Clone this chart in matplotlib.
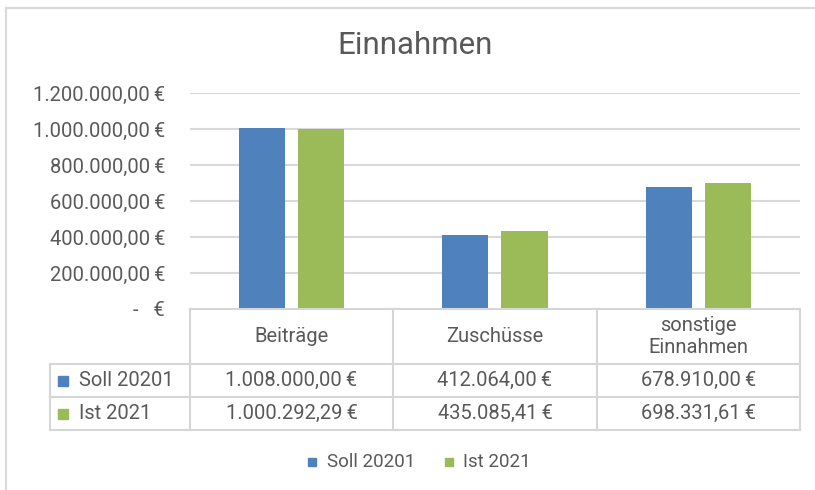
import matplotlib
matplotlib.use("Agg")
import matplotlib.pyplot as plt
from matplotlib.patches import Rectangle
from matplotlib.lines import Line2D

plt.rcParams['font.family'] = ['Roboto', 'DejaVu Sans']

title = "Einnahmen"
categories = ["Beiträge", "Zuschüsse", "sonstige\nEinnahmen"]
series_names = ["Soll 20201", "Ist 2021"]
soll = [1008000.00, 412064.00, 678910.00]
ist = [1000292.29, 435085.41, 698331.61]
yticks = [0, 200000, 400000, 600000, 800000, 1000000, 1200000]
colors = ["#4F81BD", "#9BBB59"]

W, H = 815, 490
fig = plt.figure(figsize=(W / 100, H / 100), dpi=100)

def fx(px):
    return px / W

def fy(py):
    return 1 - py / H

grid_c = "#D9D9D9"
text_c = "#595959"
FS = 14.5

# chart border
fig.add_artist(Line2D([fx(6), fx(815)], [fy(8), fy(8)], color=grid_c, lw=1.5))
fig.add_artist(Line2D([fx(6), fx(6)], [fy(8), fy(490)], color=grid_c, lw=1.5))

L, R, T, B = 190, 800, 93, 309
ax = fig.add_axes([fx(L), fy(B), fx(R - L), (B - T) / H])
ax.set_xlim(-0.5, 2.5)
ax.set_ylim(0, 1200000)

cat_px = (R - L) / 3
bw = 46 / cat_px
off = 29.5 / cat_px
x = list(range(len(categories)))
ax.bar([i - off for i in x], soll, width=bw, color=colors[0], zorder=3)
ax.bar([i + off for i in x], ist, width=bw, color=colors[1], zorder=3)

def fmt(v):
    if v == 0:
        return "-   €"
    s = f"{v:,.2f}"
    s = s.replace(",", "X").replace(".", ",").replace("X", ".")
    return s + "\u2009€"

ax.set_yticks(yticks)
ax.set_yticklabels([fmt(v) for v in yticks], fontsize=FS, color=text_c)
ax.tick_params(axis='y', length=0, pad=18)
ax.set_xticks([])
ax.yaxis.grid(True, color=grid_c, lw=1.5, zorder=0)
for s in ["top", "right", "left", "bottom"]:
    ax.spines[s].set_visible(False)

fig.text(fx(415), fy(46), title, ha="center", va="center", fontsize=22.5,
         color=text_c, fontweight="normal")

# data table
tc = "#D6D6D6"
lw = 1.5
row_y = [309, 364, 397, 430]
col_x = [190, 393, 597, 800]
for cx in col_x:
    fig.add_artist(Line2D([fx(cx), fx(cx)], [fy(309), fy(430)], color=tc, lw=lw))
fig.add_artist(Line2D([fx(190), fx(800)], [fy(309), fy(309)], color=tc, lw=lw))
for ry in row_y[1:]:
    fig.add_artist(Line2D([fx(50), fx(800)], [fy(ry), fy(ry)], color=tc, lw=lw))
fig.add_artist(Line2D([fx(50), fx(50)], [fy(364), fy(430)], color=tc, lw=lw))

for i, c in enumerate(categories):
    cxm = (col_x[i] + col_x[i + 1]) / 2
    fig.text(fx(cxm), fy((309 + 364) / 2), c, ha="center", va="center",
             fontsize=FS, color=text_c, linespacing=1.15)

for r, (name, vals) in enumerate(zip(series_names, [soll, ist])):
    yc = (row_y[r + 1] + row_y[r + 2]) / 2
    fig.add_artist(Rectangle((fx(58), fy(yc + 5)), 10 / W, 10 / H, color=colors[r],
                             transform=fig.transFigure))
    fig.text(fx(79), fy(yc), name, ha="left", va="center", fontsize=FS, color=text_c)
    for i, v in enumerate(vals):
        cxm = (col_x[i] + col_x[i + 1]) / 2
        fig.text(fx(cxm), fy(yc), fmt(v), ha="center", va="center", fontsize=FS, color=text_c)

# legend
leg_y = 462
fig.add_artist(Rectangle((fx(308), fy(leg_y + 4)), 8 / W, 8 / H, color=colors[0],
                         transform=fig.transFigure))
fig.text(fx(327), fy(leg_y), series_names[0], ha="left", va="center", fontsize=13.5, color=text_c)
fig.add_artist(Rectangle((fx(445), fy(leg_y + 4)), 8 / W, 8 / H, color=colors[1],
                         transform=fig.transFigure))
fig.text(fx(463), fy(leg_y), series_names[1], ha="left", va="center", fontsize=13.5, color=text_c)

fig.savefig("out.png", dpi=100)
